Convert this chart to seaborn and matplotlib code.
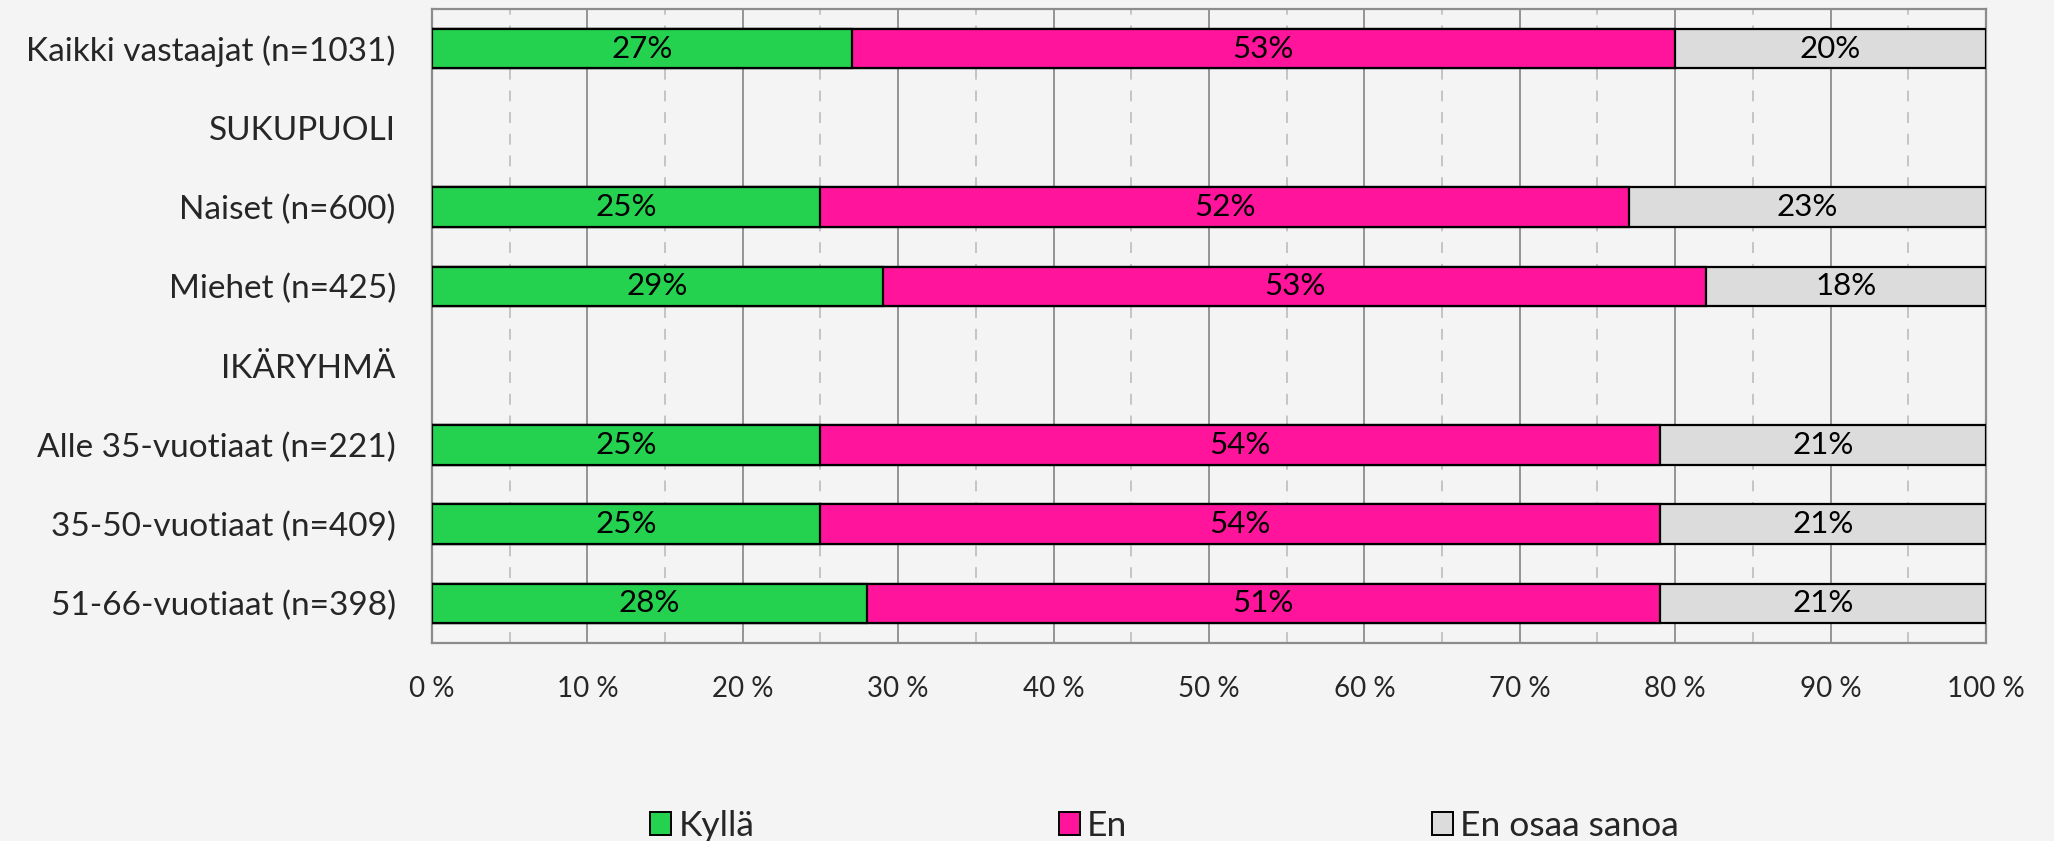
import numpy as np
import pandas as pd
import matplotlib
matplotlib.use("Agg")
import matplotlib.pyplot as plt
import seaborn as sns
from matplotlib.ticker import MultipleLocator, FuncFormatter
from matplotlib.patches import Patch

# Row labels, top to bottom (heading rows carry no bars)
rows = [
    "Kaikki vastaajat (n=1031)",
    "SUKUPUOLI",
    "Naiset (n=600)",
    "Miehet (n=425)",
    "IKÄRYHMÄ",
    "Alle 35-vuotiaat (n=221)",
    "35-50-vuotiaat (n=409)",
    "51-66-vuotiaat (n=398)",
]

groups = [
    "Kaikki vastaajat (n=1031)",
    "Naiset (n=600)",
    "Miehet (n=425)",
    "Alle 35-vuotiaat (n=221)",
    "35-50-vuotiaat (n=409)",
    "51-66-vuotiaat (n=398)",
]
kylla = [27, 25, 29, 25, 25, 28]
en = [53, 52, 53, 54, 54, 51]
eos = [20, 23, 18, 21, 21, 21]

series_names = ["Kyllä", "En", "En osaa sanoa"]
series_values = [kylla, en, eos]
colors = ["#25d250", "#ff149b", "#dcdcdc"]

bg = "#f4f4f4"
font = "Lato"

sns.set_theme(style="white")
plt.rcParams["font.family"] = [font, "DejaVu Sans"]

fig = plt.figure(figsize=(20.54, 8.41), dpi=100, facecolor=bg)
ax = fig.add_axes([0.2103, 0.2354, 0.9669 - 0.2103, 0.9893 - 0.2354])
ax.set_facecolor(bg)

# Stacked bars: draw cumulative totals from the longest back to the shortest
cum = np.cumsum(np.array(series_values), axis=0)
for i in reversed(range(len(series_names))):
    d = pd.DataFrame({"group": groups, "value": cum[i]})
    sns.barplot(data=d, x="value", y="group", order=rows, orient="h",
                color=colors[i], saturation=1, width=0.5,
                edgecolor="black", linewidth=1.6, ax=ax, zorder=3)

# Segment labels
for gi, g in enumerate(groups):
    y = rows.index(g)
    left = 0
    for si in range(len(series_names)):
        v = series_values[si][gi]
        ax.text(left + v / 2, y, f"{v}%", ha="center", va="center",
                fontsize=22.5, color="black", zorder=5)
        left += v

ax.set_xlim(0, 100)
ax.set_ylim(len(rows) - 0.5, -0.5)
ax.xaxis.set_major_locator(MultipleLocator(10))
ax.xaxis.set_minor_locator(MultipleLocator(5))
ax.xaxis.set_major_formatter(FuncFormatter(lambda v, p: f"{int(v)} %"))
ax.grid(axis="x", which="major", color="#8c8c8c", linewidth=1.3, zorder=0)
ax.grid(axis="x", which="minor", color="#c0c0c0", linewidth=1.3,
        linestyle=(0, (6, 6)), zorder=0)
ax.grid(axis="y", visible=False)
ax.set_axisbelow(True)
ax.set_xlabel("")
ax.set_ylabel("")
ax.tick_params(axis="x", which="both", length=0, pad=24, labelsize=20)
ax.tick_params(axis="y", length=0, pad=26, labelsize=24)
for s in ax.spines.values():
    s.set_color("#8c8c8c")
    s.set_linewidth(1.6)

handles = [Patch(facecolor=c, edgecolor="black", linewidth=1.4) for c in colors]
fig.legend(handles, series_names, loc="center left",
           bbox_to_anchor=(0.3165, 0.018), borderpad=0, borderaxespad=0,
           ncol=3, frameon=False, fontsize=25.5, handlelength=0.6,
           handleheight=0.6, handletextpad=0.2, columnspacing=8.6)

fig.savefig("out.png", dpi=100, facecolor=bg)
